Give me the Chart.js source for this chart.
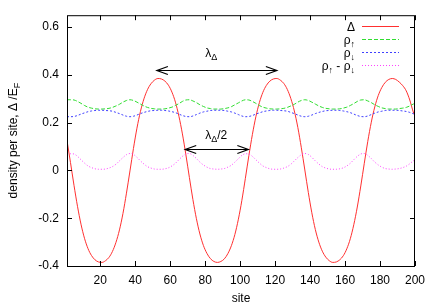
<!DOCTYPE html>
<html>
<head>
<meta charset="utf-8">
<script src="https://cdn.jsdelivr.net/npm/chart.js@4.4.1/dist/chart.umd.min.js"></script>
<style>
  html, body { margin: 0; padding: 0; background: #fff; }
  #wrap { width: 436px; height: 305px; }
</style>
</head>
<body>
<div id="wrap"><canvas id="chart" width="436" height="305"></canvas></div>
<script>
// site index along the chain
const sites = [1,3,5,7,9,11,13,15,17,19,21,23,25,27,29,31,33,35,37,39,41,43,45,47,49,
  51,53,55,57,59,61,63,65,67,69,71,73,75,77,79,81,83,85,87,89,91,93,95,97,99,
  101,103,105,107,109,111,113,115,117,119,121,123,125,127,129,131,133,135,137,139,141,143,145,147,149,
  151,153,155,157,159,161,163,165,167,169,171,173,175,177,179,181,183,185,187,189,191,193,195,197,199,200];

// order parameter Delta / E_F
const delta = [0.125,0.033,-0.062,-0.150,-0.225,-0.284,-0.327,-0.356,-0.374,-0.383,
  -0.385,-0.378,-0.364,-0.339,-0.301,-0.249,-0.180,-0.095,-0.002,0.092,
  0.177,0.247,0.300,0.338,0.363,0.378,0.385,0.383,0.374,0.357,
  0.328,0.286,0.227,0.153,0.065,-0.030,-0.122,-0.202,-0.266,-0.314,
  -0.347,-0.369,-0.381,-0.385,-0.381,-0.370,-0.348,-0.315,-0.268,-0.204,
  -0.125,-0.033,0.062,0.150,0.225,0.284,0.327,0.356,0.374,0.383,
  0.385,0.378,0.364,0.339,0.301,0.249,0.180,0.095,0.002,-0.092,
  -0.177,-0.247,-0.300,-0.338,-0.363,-0.378,-0.385,-0.383,-0.374,-0.357,
  -0.328,-0.286,-0.227,-0.153,-0.065,0.030,0.122,0.202,0.266,0.314,
  0.347,0.369,0.381,0.385,0.381,0.370,0.355,0.333,0.295,0.245,0.228];

// spin-up density
const rhoUp = [0.296,0.296,0.295,0.289,0.281,0.272,0.265,0.261,0.258,0.257,
  0.257,0.258,0.260,0.264,0.270,0.277,0.286,0.293,0.296,0.293,
  0.286,0.278,0.270,0.264,0.260,0.258,0.257,0.257,0.258,0.261,
  0.265,0.272,0.280,0.289,0.295,0.296,0.291,0.284,0.275,0.268,
  0.262,0.259,0.257,0.257,0.257,0.259,0.262,0.267,0.275,0.283,
  0.291,0.296,0.295,0.289,0.281,0.272,0.265,0.261,0.258,0.257,
  0.257,0.258,0.260,0.264,0.270,0.277,0.286,0.293,0.296,0.293,
  0.286,0.278,0.270,0.264,0.260,0.258,0.257,0.257,0.258,0.261,
  0.265,0.272,0.280,0.289,0.295,0.296,0.291,0.284,0.275,0.268,
  0.262,0.259,0.257,0.257,0.257,0.259,0.261,0.264,0.270,0.278,0.280];

// spin-down density
const rhoDown = [0.225,0.225,0.226,0.230,0.236,0.241,0.246,0.249,0.251,0.252,
  0.252,0.251,0.250,0.248,0.243,0.238,0.232,0.227,0.225,0.227,
  0.232,0.238,0.243,0.247,0.250,0.251,0.252,0.252,0.251,0.249,
  0.246,0.242,0.236,0.230,0.226,0.225,0.228,0.234,0.240,0.245,
  0.248,0.251,0.252,0.252,0.252,0.251,0.248,0.245,0.240,0.234,
  0.228,0.225,0.226,0.230,0.236,0.241,0.246,0.249,0.251,0.252,
  0.252,0.251,0.250,0.248,0.243,0.238,0.232,0.227,0.225,0.227,
  0.232,0.238,0.243,0.247,0.250,0.251,0.252,0.252,0.251,0.249,
  0.246,0.242,0.236,0.230,0.226,0.225,0.228,0.234,0.240,0.245,
  0.248,0.251,0.252,0.252,0.252,0.251,0.249,0.247,0.243,0.238,0.236];

// polarization rho_up - rho_down
const rhoDiff = [0.073,0.070,0.069,0.059,0.045,0.031,0.019,0.012,0.007,0.005,
  0.005,0.006,0.010,0.016,0.026,0.040,0.054,0.066,0.071,0.067,
  0.055,0.040,0.027,0.016,0.010,0.006,0.005,0.005,0.007,0.011,
  0.019,0.030,0.045,0.059,0.069,0.071,0.063,0.050,0.035,0.023,
  0.014,0.008,0.006,0.005,0.006,0.008,0.014,0.022,0.035,0.049,
  0.063,0.070,0.069,0.059,0.045,0.031,0.019,0.012,0.007,0.005,
  0.005,0.006,0.010,0.016,0.026,0.040,0.054,0.066,0.071,0.067,
  0.055,0.040,0.027,0.016,0.010,0.006,0.005,0.005,0.007,0.011,
  0.019,0.030,0.045,0.059,0.069,0.071,0.063,0.050,0.035,0.023,
  0.014,0.008,0.006,0.005,0.006,0.008,0.012,0.018,0.028,0.040,0.044];

const xTicks = [20,40,60,80,100,120,140,160,180,200];
const yTicks = [-0.4,-0.2,0,0.2,0.4,0.6];

// legend text, [text, isSubscript] pieces
const legendLabels = [
  [['Δ', false]],
  [['ρ', false], ['↑', true]],
  [['ρ', false], ['↓', true]],
  [['ρ', false], ['↑', true], [' - ', false], ['ρ', false], ['↓', true]]
];

// wavelength arrows (site from, site to, value) and their labels
const arrowLines = [[52.4, 121, 0.42], [68.6, 104.7, 0.09]];
const arrowTexts = [
  { site: 80, val: 0.476, parts: [['λ', false], ['Δ', true]] },
  { site: 80, val: 0.131, parts: [['λ', false], ['Δ', true], ['/2', false]] }
];

const FONT = '"Liberation Sans", Arial, Helvetica, sans-serif';
const colors = ['#ff3030', '#30dd30', '#4040ff', '#ff40ff'];
const dashes = [[], [4, 2], [2, 2], [1, 2]];

function pts(vals) {
  return sites.map((s, i) => ({ x: s, y: vals[i] }));
}

function drawParts(ctx, parts, x, y, size, align) {
  const sub = Math.round(size * 0.72);
  let w = 0;
  parts.forEach(p => {
    ctx.font = (p[1] ? sub : size) + 'px ' + FONT;
    w += ctx.measureText(p[0]).width;
  });
  let cx = align === 'right' ? x - w : (align === 'center' ? x - w / 2 : x);
  parts.forEach(p => {
    ctx.font = (p[1] ? sub : size) + 'px ' + FONT;
    ctx.fillText(p[0], cx, p[1] ? y + 3 : y);
    cx += ctx.measureText(p[0]).width;
  });
}

function arrowHead(ctx, x, y, dir) {
  ctx.beginPath();
  ctx.moveTo(x + dir * 11, y - 4);
  ctx.lineTo(x, y);
  ctx.lineTo(x + dir * 11, y + 4);
  ctx.stroke();
}

const gnuplotFrame = {
  id: 'gnuplotFrame',
  afterDatasetsDraw(chart) {
    const { ctx, chartArea: a, scales } = chart;
    const xs = scales.x, ys = scales.y;
    ctx.save();
    ctx.strokeStyle = '#000';
    ctx.fillStyle = '#000';
    ctx.lineWidth = 1;
    ctx.setLineDash([]);

    // box
    ctx.strokeRect(a.left + 0.5, a.top + 0.5, a.right - a.left - 1, a.bottom - a.top);

    // inward ticks on all four sides
    ctx.beginPath();
    xTicks.forEach(v => {
      const px = Math.round(xs.getPixelForValue(v)) + 0.5;
      ctx.moveTo(px, a.bottom); ctx.lineTo(px, a.bottom - 5);
      ctx.moveTo(px, a.top); ctx.lineTo(px, a.top + 5);
    });
    yTicks.forEach(v => {
      const py = Math.round(ys.getPixelForValue(v)) + 0.5;
      ctx.moveTo(a.left, py); ctx.lineTo(a.left + 5, py);
      ctx.moveTo(a.right, py); ctx.lineTo(a.right - 5, py);
    });
    ctx.stroke();

    // wavelength arrows
    ctx.lineWidth = 1.2;
    arrowLines.forEach(([s1, s2, v]) => {
      const x1 = xs.getPixelForValue(s1), x2 = xs.getPixelForValue(s2);
      const py = Math.round(ys.getPixelForValue(v)) + 0.5;
      ctx.beginPath();
      ctx.moveTo(x1, py); ctx.lineTo(x2, py);
      ctx.stroke();
      arrowHead(ctx, x1, py, 1);
      arrowHead(ctx, x2, py, -1);
    });
    ctx.textBaseline = 'alphabetic';
    arrowTexts.forEach(t => {
      drawParts(ctx, t.parts, xs.getPixelForValue(t.site), ys.getPixelForValue(t.val), 12, 'left');
    });

    // legend, gnuplot style
    ctx.lineWidth = 1;
    legendLabels.forEach((parts, i) => {
      const ly = 26.5 + i * 13;
      ctx.fillStyle = '#000';
      drawParts(ctx, parts, 355, ly + 4, 12, 'right');
      ctx.strokeStyle = colors[i];
      ctx.setLineDash(dashes[i]);
      ctx.beginPath();
      ctx.moveTo(362, ly); ctx.lineTo(399, ly);
      ctx.stroke();
    });
    ctx.setLineDash([]);

    // axis titles
    ctx.fillStyle = '#000';
    ctx.textAlign = 'left';
    drawParts(ctx, [['site', false]], (a.left + a.right) / 2, 302, 12, 'center');
    ctx.translate(17, (a.top + a.bottom) / 2);
    ctx.rotate(-Math.PI / 2);
    drawParts(ctx, [['density per site, Δ /E', false], ['F', true]], 0, 0, 12, 'center');
    ctx.restore();
  }
};

const datasetLabels = ['Δ', 'ρ↑', 'ρ↓', 'ρ↑ - ρ↓'];
const series = [delta, rhoUp, rhoDown, rhoDiff];

new Chart(document.getElementById('chart'), {
  type: 'line',
  data: {
    datasets: series.map((vals, i) => ({
      label: datasetLabels[i],
      data: pts(vals),
      borderColor: colors[i],
      borderWidth: 1,
      borderDash: dashes[i],
      pointRadius: 0,
      fill: false,
      cubicInterpolationMode: 'monotone',
      order: 3 - i
    }))
  },
  options: {
    responsive: false,
    animation: false,
    devicePixelRatio: 1,
    layout: { padding: { left: 0, right: 21, top: 14, bottom: 0 } },
    plugins: {
      legend: { display: false },
      tooltip: { enabled: false }
    },
    scales: {
      x: {
        type: 'linear',
        min: 1,
        max: 200,
        afterBuildTicks: s => { s.ticks = xTicks.map(v => ({ value: v })); },
        afterFit: s => { s.height = 39; },
        grid: { display: false, drawTicks: false },
        border: { display: false },
        ticks: {
          color: '#000',
          padding: 7,
          maxRotation: 0,
          autoSkip: false,
          font: { family: FONT, size: 12 },
          callback: v => String(v)
        }
      },
      y: {
        min: -0.4,
        max: 0.65,
        afterBuildTicks: s => { s.ticks = yTicks.map(v => ({ value: v })); },
        afterFit: s => { s.width = 67; },
        grid: { display: false, drawTicks: false },
        border: { display: false },
        ticks: {
          color: '#000',
          padding: 8,
          autoSkip: false,
          font: { family: FONT, size: 12 },
          callback: v => String(Math.round(v * 10) / 10)
        }
      }
    }
  },
  plugins: [gnuplotFrame]
});
</script>
</body>
</html>
